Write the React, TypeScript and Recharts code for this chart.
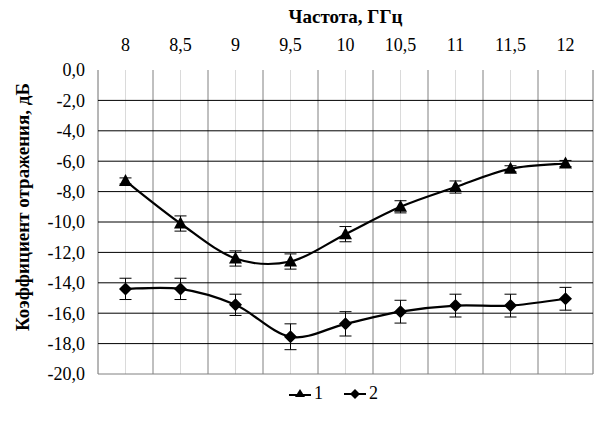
import React from 'react'
import { CartesianGrid, ErrorBar, Legend, Line, LineChart, ReferenceLine, XAxis, YAxis } from 'recharts'

const freqLabels = ['8', '8,5', '9', '9,5', '10', '10,5', '11', '11,5', '12']
const series1 = [-7.3, -10.1, -12.4, -12.6, -10.8, -9.0, -7.7, -6.5, -6.15]
const series1Err = [0.2, 0.5, 0.5, 0.5, 0.5, 0.4, 0.4, 0.2, 0.2]
const series2 = [-14.4, -14.4, -15.45, -17.55, -16.7, -15.9, -15.5, -15.5, -15.05]
const series2Err = [0.7, 0.7, 0.7, 0.85, 0.8, 0.75, 0.75, 0.75, 0.75]
const yTicks = [0, -2, -4, -6, -8, -10, -12, -14, -16, -18, -20]
const gridValues = [-2, -4, -6, -8, -10, -12, -14, -16, -18]

const rows = freqLabels.map((label, i) => ({
    label,
    s1: series1[i],
    e1: series1Err[i],
    s2: series2[i],
    e2: series2Err[i],
}))

const FONT = '"Liberation Serif", "Times New Roman", Times, Tinos, "Nimbus Roman", "DejaVu Serif", serif'

const W = 610
const H = 436
const MARGIN = { top: 0, right: 17, bottom: 62, left: 0 }
const Y_AXIS_W = 98
// half a category band on each side, like Excel's "between tick marks"
const halfBand = (W - MARGIN.right - Y_AXIS_W) / freqLabels.length / 2

// Excel-like smoothed line (Catmull-Rom through the points)
const excelSmooth = (context: any) => {
    let pts: number[][] = []
    return {
        areaStart() {},
        areaEnd() {},
        lineStart() {
            pts = []
        },
        point(x: number, y: number) {
            pts.push([+x, +y])
        },
        lineEnd() {
            if (!pts.length) return
            context.moveTo(pts[0][0], pts[0][1])
            for (let i = 0; i < pts.length - 1; i++) {
                const p0 = pts[Math.max(i - 1, 0)]
                const p1 = pts[i]
                const p2 = pts[i + 1]
                const p3 = pts[Math.min(i + 2, pts.length - 1)]
                context.bezierCurveTo(
                    p1[0] + (p2[0] - p0[0]) / 6,
                    p1[1] + (p2[1] - p0[1]) / 6,
                    p2[0] - (p3[0] - p1[0]) / 6,
                    p2[1] - (p3[1] - p1[1]) / 6,
                    p2[0],
                    p2[1]
                )
            }
        },
    }
}

const Triangle = ({ cx, cy }: any) => {
    if (cx == null || cy == null) return null
    return <path d={`M${cx},${cy - 7}L${cx + 6.5},${cy + 5}L${cx - 6.5},${cy + 5}Z`} fill="#000" />
}

const Diamond = ({ cx, cy }: any) => {
    if (cx == null || cy == null) return null
    return <path d={`M${cx},${cy - 6.5}L${cx + 6.5},${cy}L${cx},${cy + 6.5}L${cx - 6.5},${cy}Z`} fill="#000" />
}

const fmt = (v: number) => v.toFixed(1).replace('.', ',')

const scaleOf = (axis: any, v: number, offset: any) => {
    const s = axis?.scale
    if (typeof s === 'function') return s(v)
    if (s && typeof s.map === 'function') return s.map(v)
    return offset.top + (offset.height * (0 - v)) / 20
}

const LegendContent = () => (
    <div style={{ display: 'flex', alignItems: 'center', fontFamily: FONT, fontSize: 18, color: '#000' }}>
        <svg width={24} height={14}>
            <line x1={1} y1={8} x2={23} y2={8} stroke="#000" strokeWidth={2} />
            <path d="M12,2L17,10L7,10Z" fill="#000" />
        </svg>
        <span style={{ marginLeft: 2, marginRight: 20 }}>1</span>
        <svg width={24} height={14}>
            <line x1={1} y1={7} x2={23} y2={7} stroke="#000" strokeWidth={2} />
            <path d="M12,2L17,7L12,12L7,7Z" fill="#000" />
        </svg>
        <span style={{ marginLeft: 2 }}>2</span>
    </div>
)

export default function App() {
    const tick = { fontFamily: FONT, fontSize: 18, fill: '#000' }
    return (
        <div style={{ position: 'absolute', left: 0, top: 0, width: W, height: H, background: '#fff' }}>
            <LineChart width={W} height={H} data={rows} margin={MARGIN}>
                <CartesianGrid horizontal={false} stroke="#dadada" strokeWidth={1} />
                <CartesianGrid
                    horizontal={false}
                    stroke="#808080"
                    strokeWidth={1}
                    verticalCoordinatesGenerator={({ offset }: any) =>
                        Array.from({ length: freqLabels.length + 1 }, (_, i) => offset.left + (i * offset.width) / freqLabels.length)
                    }
                />
                <CartesianGrid
                    vertical={false}
                    stroke="#000"
                    strokeWidth={1}
                    horizontalCoordinatesGenerator={({ yAxis, offset }: any) => gridValues.map((v) => scaleOf(yAxis, v, offset))}
                />
                <ReferenceLine y={-20} stroke="#808080" strokeWidth={1} />
                <XAxis
                    dataKey="label"
                    orientation="top"
                    height={70}
                    interval={0}
                    padding={{ left: halfBand, right: halfBand }}
                    tick={tick}
                    tickLine={false}
                    axisLine={false}
                    tickSize={0}
                    tickMargin={19}
                    label={{
                        value: 'Частота, ГГц',
                        position: 'insideTop',
                        offset: 10,
                        style: { fontFamily: FONT, fontSize: 19, fontWeight: 'bold', fill: '#000' },
                    }}
                />
                <YAxis
                    width={Y_AXIS_W}
                    domain={[-20, 0]}
                    ticks={yTicks}
                    tickFormatter={fmt}
                    tick={tick}
                    tickLine={false}
                    axisLine={false}
                    tickSize={0}
                    tickMargin={13}
                    label={{
                        value: 'Коэффициент отражения, дБ',
                        content: ({ value }: any) => (
                            <text
                                x={22}
                                y={207}
                                transform="rotate(-90, 22, 207)"
                                textAnchor="middle"
                                dominantBaseline="central"
                                fontFamily={FONT}
                                fontSize={19}
                                fontWeight="bold"
                                fill="#000"
                            >
                                {value}
                            </text>
                        ),
                    }}
                />
                <Legend
                    layout="horizontal"
                    verticalAlign="middle"
                    content={<LegendContent />}
                    wrapperStyle={{ position: 'absolute', left: 288, top: 383, width: 'auto' }}
                />
                <Line
                    dataKey="s1"
                    name="1"
                    type={excelSmooth as any}
                    stroke="#000"
                    strokeWidth={2.2}
                    dot={<Triangle />}
                    activeDot={false}
                    isAnimationActive={false}
                >
                    <ErrorBar dataKey="e1" width={6} stroke="#000" strokeWidth={1} isAnimationActive={false} />
                </Line>
                <Line
                    dataKey="s2"
                    name="2"
                    type={excelSmooth as any}
                    stroke="#000"
                    strokeWidth={2.2}
                    dot={<Diamond />}
                    activeDot={false}
                    isAnimationActive={false}
                >
                    <ErrorBar dataKey="e2" width={6} stroke="#000" strokeWidth={1} isAnimationActive={false} />
                </Line>
            </LineChart>
        </div>
    )
}
